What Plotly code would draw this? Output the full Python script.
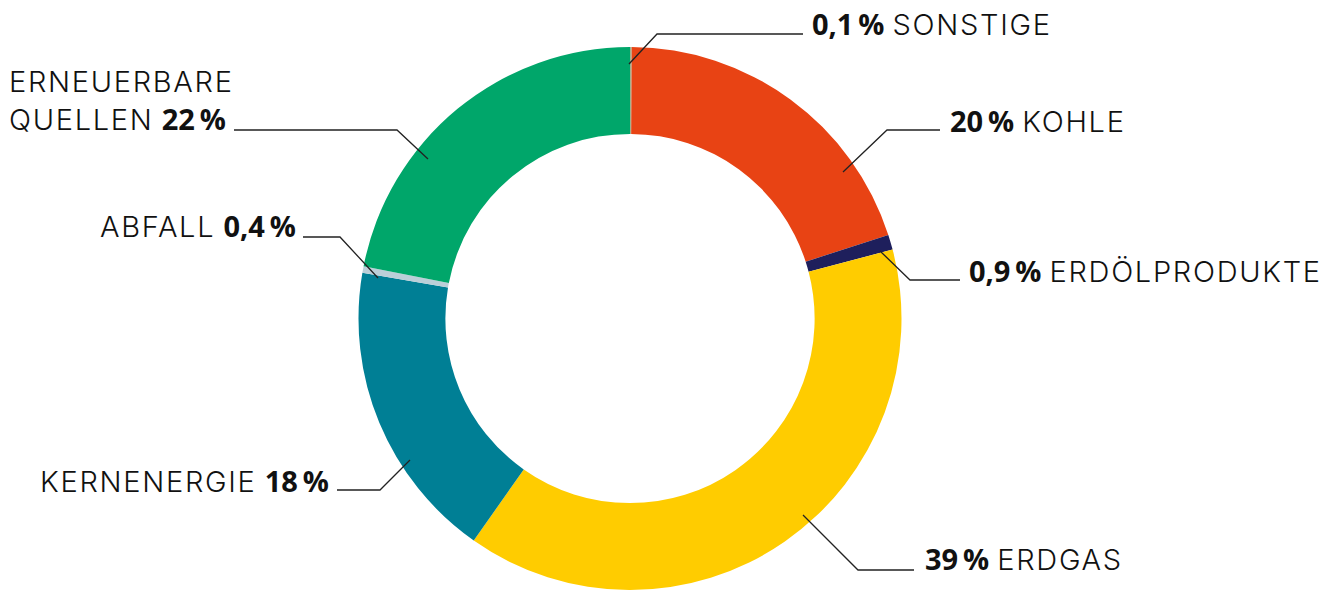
import plotly.graph_objects as go

W, H = 1327, 590

# ---- data ----
categories = ["SONSTIGE", "KOHLE", "ERDÖLPRODUKTE", "ERDGAS", "KERNENERGIE", "ABFALL", "ERNEUERBARE QUELLEN"]
values = [0.1, 20, 0.9, 39, 18, 0.4, 22]
value_labels = ["0,1\u2009%", "20\u2009%", "0,9\u2009%", "39\u2009%", "18\u2009%", "0,4\u2009%", "22\u2009%"]
colors = ["#A4B28F", "#E84314", "#1E1F5C", "#FFCC00", "#007F95", "#BBCFD8", "#00A66A"]

# ---- layout helpers ----
def px(x):
    return x / W

def py(y):
    return 1 - y / H

cx, cy, R = 630, 318.5, 271.5

fig = go.Figure(go.Pie(
    labels=categories,
    values=values,
    marker=dict(colors=colors, line=dict(width=0)),
    hole=0.68,
    sort=False,
    direction="clockwise",
    rotation=0,
    textinfo="none",
    hoverinfo="label+percent",
    showlegend=False,
    domain=dict(x=[px(cx - R), px(cx + R)], y=[py(cy + R), py(cy - R)]),
))

BOLD = '<span style="font-family:\'Open Sans\';font-weight:700">{}</span>'
REG = '<span style="letter-spacing:1.7px">{}</span>'

# label placement: (text, x, y, xanchor, align, leader polyline in px)
placements = [
    (BOLD.format(value_labels[0]) + " " + REG.format("SONSTIGE"), 810, 23, "left", "left",
     [(629, 64), (657, 34), (803, 34)]),
    (BOLD.format(value_labels[1]) + " " + REG.format("KOHLE"), 948, 121, "left", "left",
     [(843, 172), (887, 130), (940, 130)]),
    (BOLD.format(value_labels[2]) + " " + REG.format("ERDÖLPRODUKTE"), 967, 270, "left", "left",
     [(880, 251), (910, 280), (960, 280)]),
    (BOLD.format(value_labels[3]) + " " + REG.format("ERDGAS"), 923, 558, "left", "left",
     [(803, 515), (858, 570), (914, 570)]),
    (REG.format("KERNENERGIE") + " " + BOLD.format(value_labels[4]), 331, 480, "right", "right",
     [(410, 460), (380, 490), (337, 490)]),
    (REG.format("ABFALL") + " " + BOLD.format(value_labels[5]), 298, 226, "right", "right",
     [(378, 278), (340, 237), (303, 237)]),
    (REG.format("ERNEUERBARE") + "<br>" + REG.format("QUELLEN") + " " + BOLD.format(value_labels[6]),
     7, 101, "left", "left",
     [(428, 159), (397, 130), (234, 130)]),
]

annotations = []
shapes = []
for text, x, y, xa, al, pts in placements:
    annotations.append(dict(
        text=text, x=px(x), y=py(y), xref="paper", yref="paper",
        xanchor=xa, yanchor="middle", align=al, showarrow=False,
        font=dict(family="Inter", size=29, color="#111111", weight=300),
    ))
    path = "M " + " L ".join(f"{px(a)},{py(b)}" for a, b in pts)
    shapes.append(dict(type="path", path=path, xref="paper", yref="paper",
                       line=dict(color="#222222", width=1.3)))

fig.update_layout(
    width=W, height=H,
    margin=dict(l=0, r=0, t=0, b=0),
    paper_bgcolor="white",
    plot_bgcolor="white",
    annotations=annotations,
    shapes=shapes,
)

fig.write_html("out.html")
